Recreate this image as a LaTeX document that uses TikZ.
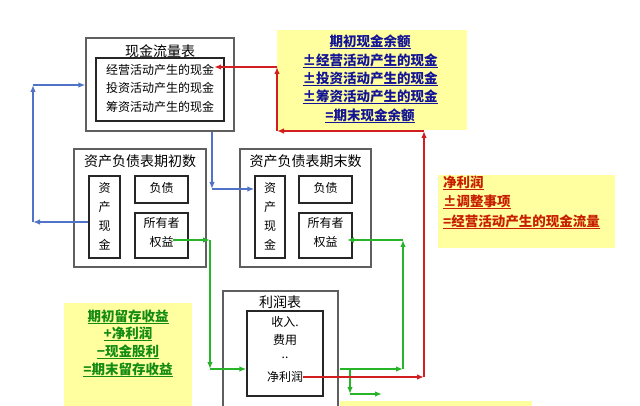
\documentclass[tikz,border=0pt]{standalone}
\usepackage{fontspec}
\setmainfont{Noto Sans CJK SC}
\usetikzlibrary{arrows.meta}
\definecolor{bl}{RGB}{80,115,200}
\definecolor{gr}{RGB}{40,180,40}
\definecolor{rd}{RGB}{210,30,30}
\definecolor{yel}{RGB}{255,255,160}
\definecolor{navy}{RGB}{20,20,150}
\definecolor{redtxt}{RGB}{200,30,0}
\definecolor{grtxt}{RGB}{20,140,20}
\definecolor{boxline}{RGB}{95,95,95}
\newcommand\myul[1]{\setbox0\hbox{#1}\rlap{\rule[-3pt]{\wd0}{1.1pt}}\box0}
\begin{document}
\begin{tikzpicture}[x=1pt,y=-1pt,
  outerbox/.style={draw=boxline, line width=1.2pt, inner sep=0pt},
  innerbox/.style={draw=black!85, line width=1.3pt, inner sep=0pt},
  txt/.style={inner sep=0pt, font=\fontsize{12}{19}\selectfont, align=center},
  ttl/.style={inner sep=0pt, font=\fontsize{14}{14}\selectfont},
  ybox/.style={fill=yel, draw=none, inner sep=0pt},
  ytxt/.style={inner sep=0pt, font=\bfseries\fontsize{13.5}{13.5}\selectfont},
  tip/.style={-{Latex[length=7pt,width=5.5pt]}},
  barrow/.style={draw=bl, line width=1.4pt, tip},
  garrow/.style={draw=gr, line width=1.4pt, tip},
  rarrow/.style={draw=rd, line width=1.4pt, tip}]
\useasboundingbox (0,0) rectangle (640,406);
\clip (0,0) rectangle (640,406);

% yellow boxes
\node[ybox, minimum width=190pt, minimum height=100pt] (y1) at (372,80) {};
\node[ybox, minimum width=177pt, minimum height=73pt] (y2) at (526.5,211.5) {};
\node[ybox, minimum width=128pt, minimum height=117pt] (y3) at (128,361.5) {};
\node[ybox, minimum width=192pt, minimum height=19pt] (y4) at (436,410.5) {};

\node[ytxt, text=navy] (y1a) at (370,42) {\myul{期初现金余额}};
\node[ytxt, text=navy] (y1b) at (370,61) {\myul{±经营活动产生的现金}};
\node[ytxt, text=navy] (y1c) at (370,79) {\myul{±投资活动产生的现金}};
\node[ytxt, text=navy] (y1d) at (370,97) {\myul{±筹资活动产生的现金}};
\node[ytxt, text=navy] (y1e) at (370,116) {\myul{=期末现金余额}};

\node[ytxt, text=redtxt, anchor=west] (y2a) at (443,183) {\myul{净利润}};
\node[ytxt, text=redtxt, anchor=west] (y2b) at (443,202) {\myul{±调整事项}};
\node[ytxt, text=redtxt, anchor=west] (y2c) at (443,222) {\myul{=经营活动产生的现金流量}};

\node[ytxt, text=grtxt] (y3a) at (128,317) {\myul{期初留存收益}};
\node[ytxt, text=grtxt] (y3b) at (128,334) {\myul{+净利润}};
\node[ytxt, text=grtxt] (y3c) at (128,352) {\myul{−现金股利}};
\node[ytxt, text=grtxt] (y3d) at (128,370) {\myul{=期末留存收益}};

% cash flow statement
\node[outerbox, minimum width=148pt, minimum height=93pt] (cf) at (160,84.5) {};
\node[ttl] (cft) at (160,51) {现金流量表};
\node[innerbox, minimum width=128pt, minimum height=63pt] (cfin) at (160,89.5) {};
\node[txt] (cf1) at (160,70) {经营活动产生的现金};
\node[txt] (cf2) at (160,88) {投资活动产生的现金};
\node[txt] (cf3) at (160,107) {筹资活动产生的现金};

% balance sheet, beginning
\node[outerbox, minimum width=132pt, minimum height=118pt] (bs1) at (140,208) {};
\node[ttl] (bs1t) at (140,161) {资产负债表期初数};
\node[innerbox, minimum width=31pt, minimum height=82pt] (A1) at (104.5,217) {};
\node[txt] (A1t) at (104.5,216) {资\\产\\现\\金};
\node[innerbox, minimum width=53pt, minimum height=27pt] (L1) at (161.5,189.5) {};
\node[txt] (L1t) at (161.5,188) {负债};
\node[innerbox, minimum width=53pt, minimum height=45pt] (E1) at (161.5,235.5) {};
\node[txt] (E1t) at (161.5,232.5) {所有者\\权益};

% balance sheet, end
\node[outerbox, minimum width=131pt, minimum height=118pt] (bs2) at (305.5,208) {};
\node[ttl] (bs2t) at (305.5,161) {资产负债表期末数};
\node[innerbox, minimum width=30pt, minimum height=82pt] (A2) at (270,217) {};
\node[txt] (A2t) at (270,216) {资\\产\\现\\金};
\node[innerbox, minimum width=53pt, minimum height=27pt] (L2) at (325.5,189.5) {};
\node[txt] (L2t) at (325.5,188) {负债};
\node[innerbox, minimum width=53pt, minimum height=45pt] (E2) at (325.5,235.5) {};
\node[txt] (E2t) at (325.5,232.5) {所有者\\权益};

% income statement
\node[outerbox, minimum width=115pt, minimum height=140pt] (is) at (280.5,361) {};
\node[ttl] (ist) at (280,302) {利润表};
\node[innerbox, minimum width=76pt, minimum height=85pt] (isin) at (285,353.5) {};
\node[txt] (is1) at (285,322) {收入.};
\node[txt] (is2) at (285,340) {费用};
\node[txt] (is3) at (285,358) {..};
\node[txt] (is4) at (285,377) {净利润};

% coordinates
\coordinate (b1a) at (33,222);
\coordinate (b1b) at (33,85);
\coordinate (b2) at (212,189);
\coordinate (g1s) at (173,240);
\coordinate (g1a) at (210,240);
\coordinate (g1b) at (210,369);
\coordinate (g2s) at (340,369);
\coordinate (g2a) at (403,369);
\coordinate (g2b) at (403,240);
\coordinate (g2e) at (347,240);
\coordinate (g3s) at (350,369);
\coordinate (g3a) at (350,394);
\coordinate (g3e) at (382,394);
\coordinate (r1) at (424,377);
\coordinate (r2) at (424,131);
\coordinate (r3) at (277,131);
\coordinate (r4) at (277,67);

% blue connectors
\draw[barrow] (A1.west |- b1a) -- (b1a);
\draw[barrow] (b1a) -- (b1b);
\draw[barrow] (b1b) -- (b1b -| cf.west);
\draw[barrow] (b2 |- cf.south) -- (b2);
\draw[barrow] (b2) -- (b2 -| A2.west);

% green connectors
\draw[garrow] (g1s) -- (g1a);
\draw[garrow] (g1a) -- (g1b);
\draw[garrow] (g1b) -- (g1b -| isin.west);
\draw[garrow] (g2s) -- (g2a);
\draw[garrow] (g2a) -- (g2b);
\draw[garrow] (g2b) -- (g2e);
\draw[garrow] (g3s) -- (g3a);
\draw[garrow] (g3a) -- (g3e);

% red connectors
\draw[rarrow] (is4.east) -- (r1);
\draw[rarrow] (r1) -- (r2);
\draw[rarrow] (r2) -- (r3);
\draw[rarrow] (r3) -- (r4);
\draw[rarrow] (r4) -- (r4 -| cf1.east);
\end{tikzpicture}
\end{document}
